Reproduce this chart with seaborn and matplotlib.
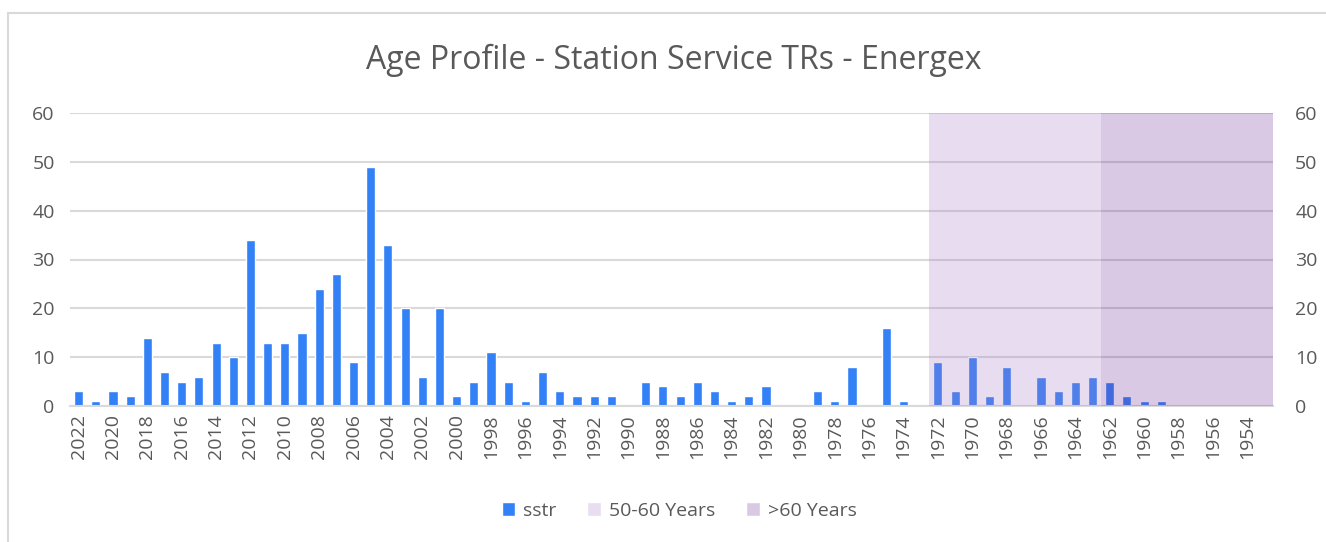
import numpy as np
import pandas as pd
import matplotlib
matplotlib.use('Agg')
import matplotlib.pyplot as plt
import seaborn as sns
from matplotlib.patches import Patch, Rectangle

# data
years = list(range(2022, 1952, -1))
sstr = [3, 1, 3, 2, 14, 7, 5, 6, 13, 10,
        34, 13, 13, 15, 24, 27, 9, 49, 33, 20,
        6, 20, 2, 5, 11, 5, 1, 7, 3, 2,
        2, 2, 0, 5, 4, 2, 5, 3, 1, 2,
        4, 0, 0, 3, 1, 8, 0, 16, 1, 0,
        9, 3, 10, 2, 8, 0, 6, 3, 5, 6,
        5, 2, 1, 1, 0, 0, 0, 0, 0, 0]
years_50_60 = [1972, 1971, 1970, 1969, 1968, 1967, 1966, 1965, 1964, 1963]
years_over_60 = [1962, 1961, 1960, 1959, 1958, 1957, 1956, 1955, 1954, 1953]
band_height = 60

title = 'Age Profile - Station Service TRs - Energex'
blue = '#3381F7'
shade_light = '#A77BC7'
shade_dark = '#6C2894'
grey_text = '#595959'

sns.set_style('white')
plt.rcParams['font.family'] = ['Open Sans', 'DejaVu Sans']

labels = [str(y) for y in years]
df = pd.DataFrame({'year': labels, 'sstr': sstr})
df['b1'] = [band_height if y in years_50_60 else 0 for y in years]
df['b2'] = [band_height if y in years_over_60 else 0 for y in years]

fig = plt.figure(figsize=(13.26, 5.42), dpi=100)
ax = fig.add_axes([70 / 1326, 1 - 406 / 542, 1203 / 1326, 293 / 542])

sns.barplot(data=df, x='year', y='sstr', order=labels, color=blue,
            width=0.53, saturation=1, ax=ax, zorder=2)
ax.set_ylim(0, 60)
ax.set_xlim(-0.5, len(years) - 0.5)
ax.set_yticks(range(0, 61, 10))
ax.yaxis.grid(True, color='#D9D9D9', linewidth=1.5, zorder=0)
ax.set_axisbelow(True)
for s in ['left', 'right', 'top']:
    ax.spines[s].set_visible(False)
ax.spines['bottom'].set_color('#D9D9D9')
ax.spines['bottom'].set_linewidth(1.5)
ax.set_xlabel('')
ax.set_ylabel('')
ax.set_xticks(range(len(years)))
ax.set_xticklabels([l if i % 2 == 0 else '' for i, l in enumerate(labels)],
                   rotation=90)
ax.tick_params(axis='both', length=0, labelsize=14, colors=grey_text)
ax.tick_params(axis='y', pad=11)
ax.tick_params(axis='x', pad=6)

ax2 = ax.twinx()
sns.barplot(data=df, x='year', y='b1', order=labels, color=shade_light,
            width=1.0, saturation=1, alpha=0.25, linewidth=0,
            edgecolor='none', antialiased=False, ax=ax2)
sns.barplot(data=df, x='year', y='b2', order=labels, color=shade_dark,
            width=1.0, saturation=1, alpha=0.25, linewidth=0,
            edgecolor='none', antialiased=False, ax=ax2)
ax2.set_ylim(0, 60)
ax2.set_xlim(-0.5, len(years) - 0.5)
ax2.set_yticks(range(0, 61, 10))
ax2.set_ylabel('')
for s in ['left', 'right', 'top', 'bottom']:
    ax2.spines[s].set_visible(False)
ax2.tick_params(axis='y', length=0, labelsize=14, colors=grey_text, pad=16)

fig.text(674 / 1326, 1 - 60 / 542, title, ha='center', va='center',
         fontsize=23, color=grey_text)

handles = [Patch(facecolor=blue, label='sstr'),
           Patch(facecolor='#E9DEF1', label='50-60 Years'),
           Patch(facecolor='#DAC9E4', label='>60 Years')]
fig.legend(handles=handles, loc='center', bbox_to_anchor=(679 / 1326, 1 - 511 / 542),
           ncol=3, frameon=False, fontsize=14, labelcolor=grey_text,
           handlelength=0.7, handleheight=0.7, handletextpad=0.4,
           columnspacing=1.6)

fig.patches.append(Rectangle((8 / 1326, -0.1), 1.5, 1 - 13 / 542 + 0.1,
                             transform=fig.transFigure, fill=False,
                             edgecolor='#D9D9D9', linewidth=1.5))

fig.savefig('out.png', dpi=100)
